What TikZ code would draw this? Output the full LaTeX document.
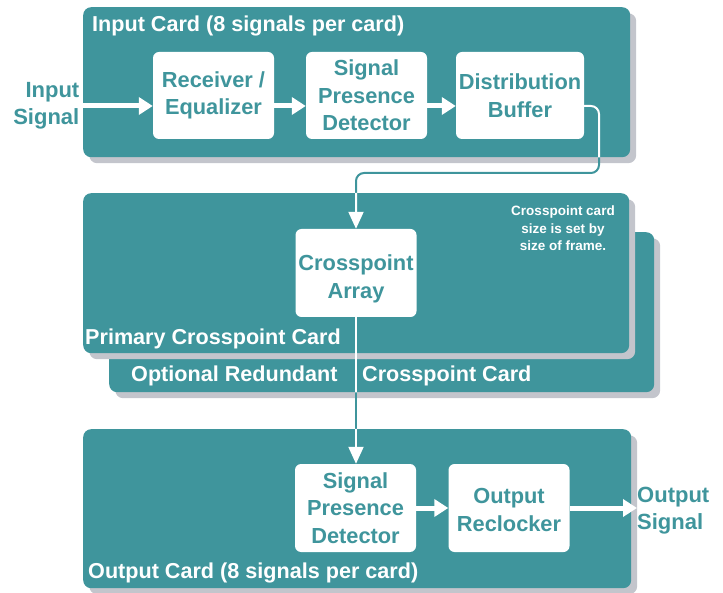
\documentclass[tikz,border=0pt]{standalone}
\usepackage{fontspec}
\setmainfont{Liberation Sans}
\usetikzlibrary{arrows.meta,shadows}
\definecolor{teal1}{HTML}{3F959C}
\definecolor{shgray}{HTML}{C3C5CC}
\tikzset{
  card/.style={fill=teal1, rounded corners=8pt, anchor=north west, inner sep=0pt,
    drop shadow={shadow xshift=6pt, shadow yshift=-6pt, fill=shgray, opacity=1}},
  blk/.style={fill=white, rounded corners=6pt, minimum width=121pt, minimum height=87pt,
    text=teal1, align=center, inner sep=0pt, font=\bfseries\fontsize{21.8}{27.5}\selectfont},
  boxtext/.style={text=teal1, align=center, inner sep=0pt, font=\bfseries\fontsize{21.8}{27.5}\selectfont},
  ttl/.style={text=white, anchor=base west, inner sep=0pt, font=\bfseries\fontsize{21.6}{27.5}\selectfont},
  lbl/.style={text=teal1, inner sep=0pt, font=\bfseries\fontsize{22}{27}\selectfont},
  notetxt/.style={text=white, align=center, anchor=north, inner sep=0pt, font=\bfseries\fontsize{13.5}{17.5}\selectfont},
  flow/.style={draw=white, line width=5pt, -{Triangle[length=14pt,width=17pt]}},
  conn/.style={line width=2pt, rounded corners=8pt, -{Triangle[length=17pt,width=15pt]}},
}
\begin{document}
\begin{tikzpicture}[x=1pt,y=-1pt]
\useasboundingbox (0,0) rectangle (723,593);
% cards
\node[card, minimum width=547pt, minimum height=150pt] (inc) at (83,7) {};
\node[card, minimum width=545pt, minimum height=160pt] (red) at (109,232) {};
\node[card, minimum width=546pt, minimum height=160pt] (pri) at (83,193) {};
\node[card, minimum width=548pt, minimum height=159pt] (outc) at (83,429) {};
% card titles
\node[ttl] (tin) at (92,32) {Input Card (8 signals per card)};
\node[ttl] (tpri) at (85,345) {Primary Crosspoint Card};
\node[ttl] (tred1) at (131,382) {Optional Redundant};
\node[ttl] (tred2) at (362,382) {Crosspoint Card};
\node[ttl] (tout) at (88,578) {Output Card (8 signals per card)};
\node[notetxt] (note) at (563,206) {Crosspoint card\\size is set by\\size of frame.};
% blocks
\node[blk] (re) at (213.5,95.5) {Receiver /\\Equalizer};
\node[blk] (spd) at (366.5,95.5) {Signal\\Presence\\Detector};
\node[blk, minimum width=128pt] (db) at (520,95.5) {Distribution\\Buffer};
\node[blk, minimum height=88pt] (ca) at (356,273) {};
\node[boxtext] (catext) at ([yshift=-6pt]ca.center) {Crosspoint\\Array};
\node[blk, minimum height=88pt] (ospd) at (355.5,508) {Signal\\Presence\\Detector};
\node[blk, minimum height=88pt] (orc) at (509,508) {};
\node[boxtext] (orctext) at ([yshift=-2pt]orc.center) {Output\\Reclocker};
% outside labels
\node[lbl, align=right, anchor=east] (insig) at (79.5,106) {Input\\Signal};
\node[lbl, align=left, anchor=west] (outsig) at (637,511) {Output\\Signal};
% flow arrows
\coordinate (inS) at (83,106);
\coordinate (outS) at (637,508);
\draw[flow] (inS) -- (inS -| re.west);
\draw[flow] (re.east |- inS) -- (inS -| spd.west);
\draw[flow] (spd.east |- inS) -- (inS -| db.west);
\draw[flow] (ospd.east) -- (orc.west);
\draw[flow] (orc.east) -- (outS);
% connectors
\coordinate (k1) at (599,173);
\draw[conn, teal1] (db.east |- inS) -| (k1) -| (ca.north);
\draw[conn, teal1] (ca.south) -- (ca.south |- ospd.north);
\begin{scope}
\clip[rounded corners=8pt] (inc.north west) rectangle (inc.south east)
  (pri.north west) rectangle (pri.south east)
  (red.north west) rectangle (red.south east)
  (outc.north west) rectangle (outc.south east);
\draw[conn, white] (db.east |- inS) -| (k1) -| (ca.north);
\draw[conn, white] (ca.south) -- (ca.south |- ospd.north);
\end{scope}
\end{tikzpicture}
\end{document}
